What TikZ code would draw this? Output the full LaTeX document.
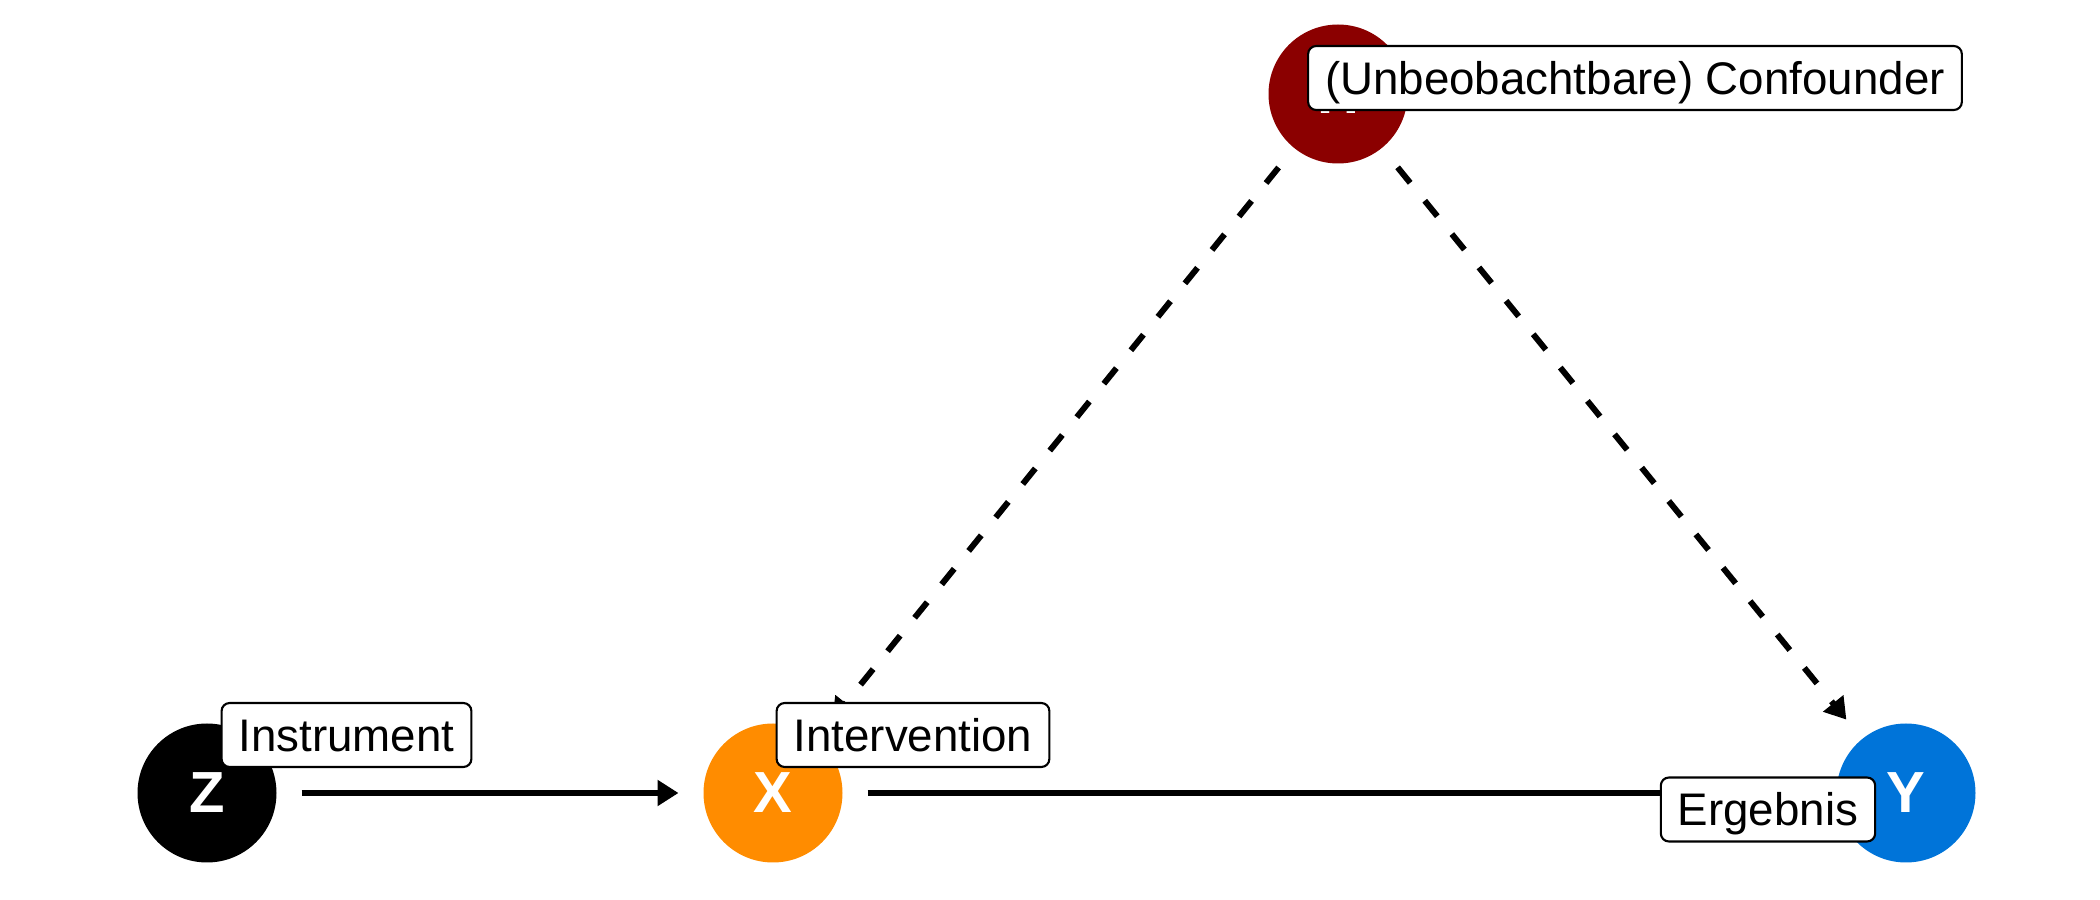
\documentclass[tikz,border=0pt]{standalone}
\usepackage{fontspec}
\setmainfont{Liberation Sans}
\usetikzlibrary{arrows.meta}
\definecolor{confred}{HTML}{8B0000}
\definecolor{intorange}{HTML}{FF8C00}
\definecolor{outblue}{HTML}{0074D9}
\tikzset{dagnode/.style={circle, fill=#1, minimum size=1.39cm, inner sep=0, outer sep=0, text=white, font=\fontsize{16.5}{18}\selectfont\bfseries}}
\tikzset{daglabel/.style={draw=black, line width=0.6pt, rounded corners=2.3pt, fill=white, inner xsep=0.17cm, inner ysep=0.155cm, text height=0.33cm, text depth=0pt, font=\fontsize{13}{15}\selectfont}}
\tikzset{arr/.style={draw, line width=1.7pt, -{Triangle[length=0.21cm, width=0.25cm]}, shorten <=0.25cm, shorten >=0.25cm}}
\tikzset{arrdash/.style={arr, dash pattern=on 0.2cm off 0.23cm}}
\begin{document}
\begin{tikzpicture}
    \useasboundingbox (0,0) rectangle (21,9);
    % variables
    \node[dagnode=black] (Z) at (2.07,1.07) {Z};
    \node[dagnode=intorange] (X) at (7.73,1.07) {X};
    \node[dagnode=outblue] (Y) at (19.06,1.07) {Y};
    \node[dagnode=confred] (H) at (13.38,8.06) {H};
    % edges
    \draw[arr] (Z) -- (X);
    \draw[arr] (X) -- (Y);
    \draw[arrdash] (H) -- (X);
    \draw[arrdash] (H) -- (Y);
    % labels
    \node[daglabel] (Zlab) at (3.465,1.65) {Instrument};
    \node[daglabel] (Xlab) at (9.13,1.65) {Intervention};
    \node[daglabel] (Ylab) at (17.68,0.905) {Ergebnis};
    \node[daglabel] (Hlab) at (16.35,8.22) {(Unbeobachtbare) Confounder};
\end{tikzpicture}
\end{document}
